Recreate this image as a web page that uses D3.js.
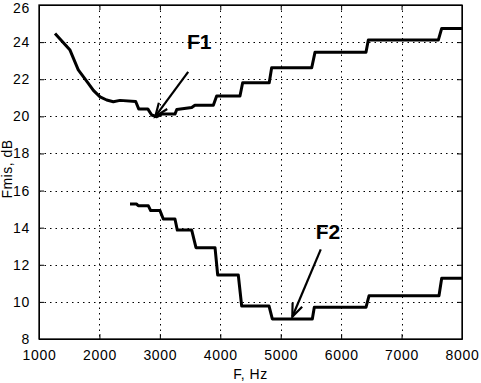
<!DOCTYPE html>
<html lang="en">
<head>
<meta charset="UTF-8">
<title>Fmis</title>
<script src="https://cdn.jsdelivr.net/npm/d3@7"></script>
<style>
  body { margin: 0; background: #fff; }
  svg { font-family: "Liberation Sans", Arial, sans-serif; }
</style>
</head>
<body>
<svg id="chart" width="481" height="383"></svg>
<script>
// F1 curve (Hz, dB)
const f1Freq = [1265, 1513, 1650, 1816, 1900, 2010, 2120, 2230, 2340, 2600, 2650, 2800, 2865, 2948, 3030, 3250, 3280, 3527, 3580, 3885, 3940, 4326, 4370, 4810, 4850, 5513, 5567, 6411, 6450, 7608, 7664, 8000];
const f1Db   = [24.47, 23.57, 22.5, 21.78, 21.4, 21.05, 20.88, 20.79, 20.86, 20.8, 20.4, 20.4, 20.07, 19.98, 20.12, 20.12, 20.37, 20.48, 20.6, 20.6, 21.1, 21.1, 21.81, 21.81, 22.62, 22.62, 23.45, 23.45, 24.11, 24.11, 24.74, 24.74];
// F2 curve
const f2Freq = [2506, 2616, 2643, 2810, 2848, 3002, 3057, 3250, 3289, 3527, 3598, 3913, 3957, 4298, 4354, 4806, 4861, 5523, 5556, 6411, 6461, 7619, 7664, 8000];
const f2Db   = [15.27, 15.27, 15.18, 15.18, 14.92, 14.92, 14.47, 14.47, 13.87, 13.87, 12.92, 12.92, 11.45, 11.45, 9.78, 9.78, 9.08, 9.08, 9.71, 9.71, 10.33, 10.33, 11.27, 11.27];

const xTicks = [1000, 2000, 3000, 4000, 5000, 6000, 7000, 8000];
const yTicks = [8, 10, 12, 14, 16, 18, 20, 22, 24, 26];

// annotations: label, label position, arrow start, arrow tip (data units)
const notes = [
  {label: "F1", lx: 3450, ly: 23.62, x0: 3469, y0: 22.4, x1: 2925, y1: 20.0},
  {label: "F2", lx: 5580, ly: 13.39, x0: 5663, y0: 12.83, x1: 5192, y1: 9.2}
];

const svg = d3.select("#chart");
const mLeft = 39, mRight = 462, mTop = 5, mBottom = 339;

const x = d3.scaleLinear().domain([1000, 8000]).range([mLeft, mRight]);
const y = d3.scaleLinear().domain([8, 26]).range([mBottom, mTop]);

// dotted grid
const grid = svg.append("g");
grid.selectAll("line.gx").data(xTicks.slice(1, -1)).enter().append("line")
  .attr("class", "gx")
  .attr("x1", d => Math.round(x(d)) + 0.5).attr("x2", d => Math.round(x(d)) + 0.5)
  .attr("y1", mTop).attr("y2", mBottom);
grid.selectAll("line.gy").data(yTicks.slice(1, -1)).enter().append("line")
  .attr("class", "gy")
  .attr("y1", d => Math.round(y(d)) + 0.5).attr("y2", d => Math.round(y(d)) + 0.5)
  .attr("x1", mLeft).attr("x2", mRight);
grid.selectAll("line")
  .attr("stroke", "#000").attr("stroke-width", 1).attr("stroke-dasharray", "1.5,4");

// axes
const xAxis = d3.axisBottom(x).tickValues(xTicks).tickFormat(d3.format("d"))
  .tickSizeInner(-5).tickSizeOuter(0).tickPadding(11);
const yAxis = d3.axisLeft(y).tickValues(yTicks).tickSizeInner(-5).tickSizeOuter(0).tickPadding(9);

svg.append("g").attr("transform", `translate(0,${mBottom})`).call(xAxis)
  .call(g => g.selectAll("text").attr("font-size", 14).attr("letter-spacing", 0.7).attr("fill", "#000"));
svg.append("g").attr("transform", `translate(${mLeft},0)`).call(yAxis)
  .call(g => g.selectAll("text").attr("font-size", 14).attr("letter-spacing", 0.7).attr("fill", "#000"))
  .call(g => g.selectAll(".tick").filter(d => d === 26).select("text").attr("dy", "0.5em"));
svg.append("g").attr("transform", `translate(0,${mTop})`)
  .call(d3.axisTop(x).tickValues(xTicks).tickSizeInner(-5).tickSizeOuter(0).tickFormat(""));
svg.append("g").attr("transform", `translate(${mRight},0)`)
  .call(d3.axisRight(y).tickValues(yTicks).tickSizeInner(-5).tickSizeOuter(0).tickFormat(""));

svg.selectAll(".domain, .tick line").attr("stroke", "#000");

svg.append("rect").attr("x", mLeft).attr("y", mTop)
  .attr("width", mRight - mLeft).attr("height", mBottom - mTop)
  .attr("fill", "none").attr("stroke", "#000").attr("stroke-width", 1.3);

// curves
const line = d3.line().x(d => x(d[0])).y(d => y(d[1]));
[[f1Freq, f1Db], [f2Freq, f2Db]].forEach(([fx, fy]) => {
  svg.append("path")
    .datum(fx.map((f, i) => [f, fy[i]]))
    .attr("d", line)
    .attr("fill", "none").attr("stroke", "#000")
    .attr("stroke-width", 3).attr("stroke-linejoin", "round");
});

// arrows
notes.forEach(n => {
  svg.append("line")
    .attr("x1", x(n.x0)).attr("y1", y(n.y0)).attr("x2", x(n.x1)).attr("y2", y(n.y1))
    .attr("stroke", "#000").attr("stroke-width", 2.2);
  const ang = Math.atan2(y(n.y1) - y(n.y0), x(n.x1) - x(n.x0));
  const hl = 14, ha = 0.38;
  const tx = x(n.x1), ty = y(n.y1);
  svg.append("path")
    .attr("d", `M${tx - hl * Math.cos(ang - ha)},${ty - hl * Math.sin(ang - ha)} L${tx},${ty} L${tx - hl * Math.cos(ang + ha)},${ty - hl * Math.sin(ang + ha)}`)
    .attr("fill", "none").attr("stroke", "#000").attr("stroke-width", 2.2);
  svg.append("text").attr("x", x(n.lx)).attr("y", y(n.ly))
    .attr("font-size", 21).attr("font-weight", "bold").text(n.label);
});

// axis titles
svg.append("text").attr("x", (mLeft + mRight) / 2).attr("y", 379)
  .attr("text-anchor", "middle").attr("font-size", 14).attr("letter-spacing", 0.5).text("F, Hz");
svg.append("text").attr("transform", `translate(12,169) rotate(-90)`)
  .attr("text-anchor", "middle").attr("font-size", 14).attr("letter-spacing", 0.5).text("Fmis, dB");
</script>
</body>
</html>
